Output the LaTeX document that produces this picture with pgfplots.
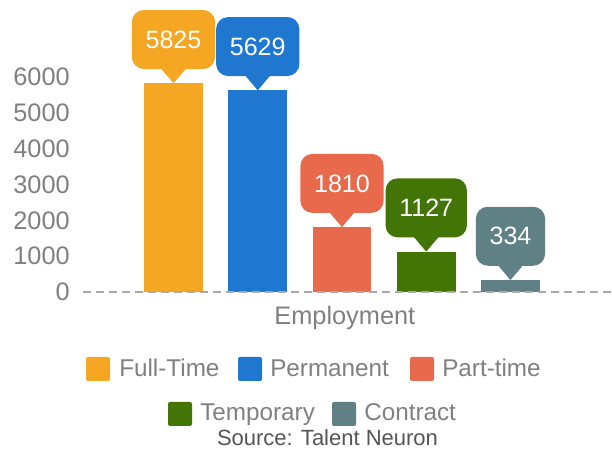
\documentclass[border=0pt]{standalone}
\usepackage{pgfplots}
\pgfplotsset{compat=1.18}
\usepackage{fontspec}
\setmainfont{Liberation Sans}

\definecolor{cFull}{HTML}{F5A623}
\definecolor{cPerm}{HTML}{1F77D0}
\definecolor{cPart}{HTML}{E8694B}
\definecolor{cTemp}{HTML}{427505}
\definecolor{cCont}{HTML}{5F8084}
\definecolor{tickgray}{HTML}{808080}
\definecolor{linegray}{HTML}{AAAAAA}
\definecolor{srcgray}{HTML}{555555}

% value callout: rounded box with a pointer down to the bar top
\pgfplotsset{
  callout/.style={
    fill=#1, draw=none,
    nodes near coords,
    every node near coord/.style={
      anchor=south, yshift=10.5pt, fill=#1, text=white,
      rounded corners=9pt, inner xsep=10.3pt, inner ysep=0pt,
      minimum height=44.25pt,
      font=\fontsize{18.8}{18.8}\selectfont,
      append after command={\pgfextra{\fill[#1, sharp corners]
        ([xshift=-9.75pt, yshift=1pt]\tikzlastnode.south)
        -- ([xshift=9.75pt, yshift=1pt]\tikzlastnode.south)
        -- ([yshift=-10.5pt]\tikzlastnode.south) -- cycle;}}
    },
  },
}

\begin{document}
\begin{tikzpicture}[x=0.75pt, y=0.75pt]
\useasboundingbox (0,0) rectangle (612,450);
\begin{axis}[
    at={(62.25pt,118.5pt)}, anchor=south west,
    scale only axis,
    width=396.75pt, height=161.25pt,
    xmin=-0.0742, xmax=6.205,
    ymin=0, ymax=6000,
    clip=false,
    axis on top,
    ybar, bar width=0.7, bar shift=0pt,
    separate axis lines,
    axis x line*=bottom,
    axis y line*=left,
    x axis line style={-, draw=linegray, line width=1.2pt, dash pattern=on 6pt off 3.75pt},
    y axis line style={draw=none},
    xtick=\empty,
    ytick={0,1000,...,6000},
    major tick length=0pt,
    scaled y ticks=false,
    /pgf/number format/1000 sep={},
    /pgf/number format/assume math mode=true,
    yticklabel style={anchor=east, inner sep=0pt, xshift=-9.75pt,
      text=tickgray, font=\fontsize{19}{19}\selectfont},
    xlabel={Employment},
    xlabel style={at={(rel axis cs:0.495,0)}, anchor=base, yshift=-24.75pt,
      inner sep=0pt, text=tickgray, font=\fontsize{19}{19}\selectfont},
]
\addplot[callout=cFull] coordinates {(1,5825)};
\addplot[callout=cPerm] coordinates {(2,5629)};
\addplot[callout=cPart] coordinates {(3,1810)};
\addplot[callout=cTemp] coordinates {(4,1127)};
\addplot[callout=cCont] coordinates {(5,334)};
\end{axis}

% legend (two centred rows)
\begin{scope}[every node/.style={anchor=base west, inner sep=0pt, text=tickgray,
    font=\fontsize{18.2}{18.2}\selectfont}]
\fill[cFull, rounded corners=1.5pt] (86,69) rectangle (110,93);
\node at (119,73) {Full-Time};
\fill[cPerm, rounded corners=1.5pt] (238,69) rectangle (262,93);
\node at (270,73) {Permanent};
\fill[cPart, rounded corners=1.5pt] (410,69) rectangle (434,93);
\node at (442,73) {Part-time};
\fill[cTemp, rounded corners=1.5pt] (168,24) rectangle (192,48);
\node at (200,29) {Temporary};
\fill[cCont, rounded corners=1.5pt] (332,24) rectangle (356,48);
\node at (364,29) {Contract};
\end{scope}
\node[anchor=base, inner sep=0pt, text=srcgray, font=\fontsize{16.5}{16.5}\selectfont]
  at (327.5,4) {Source: Talent Neuron};
\end{tikzpicture}
\end{document}
